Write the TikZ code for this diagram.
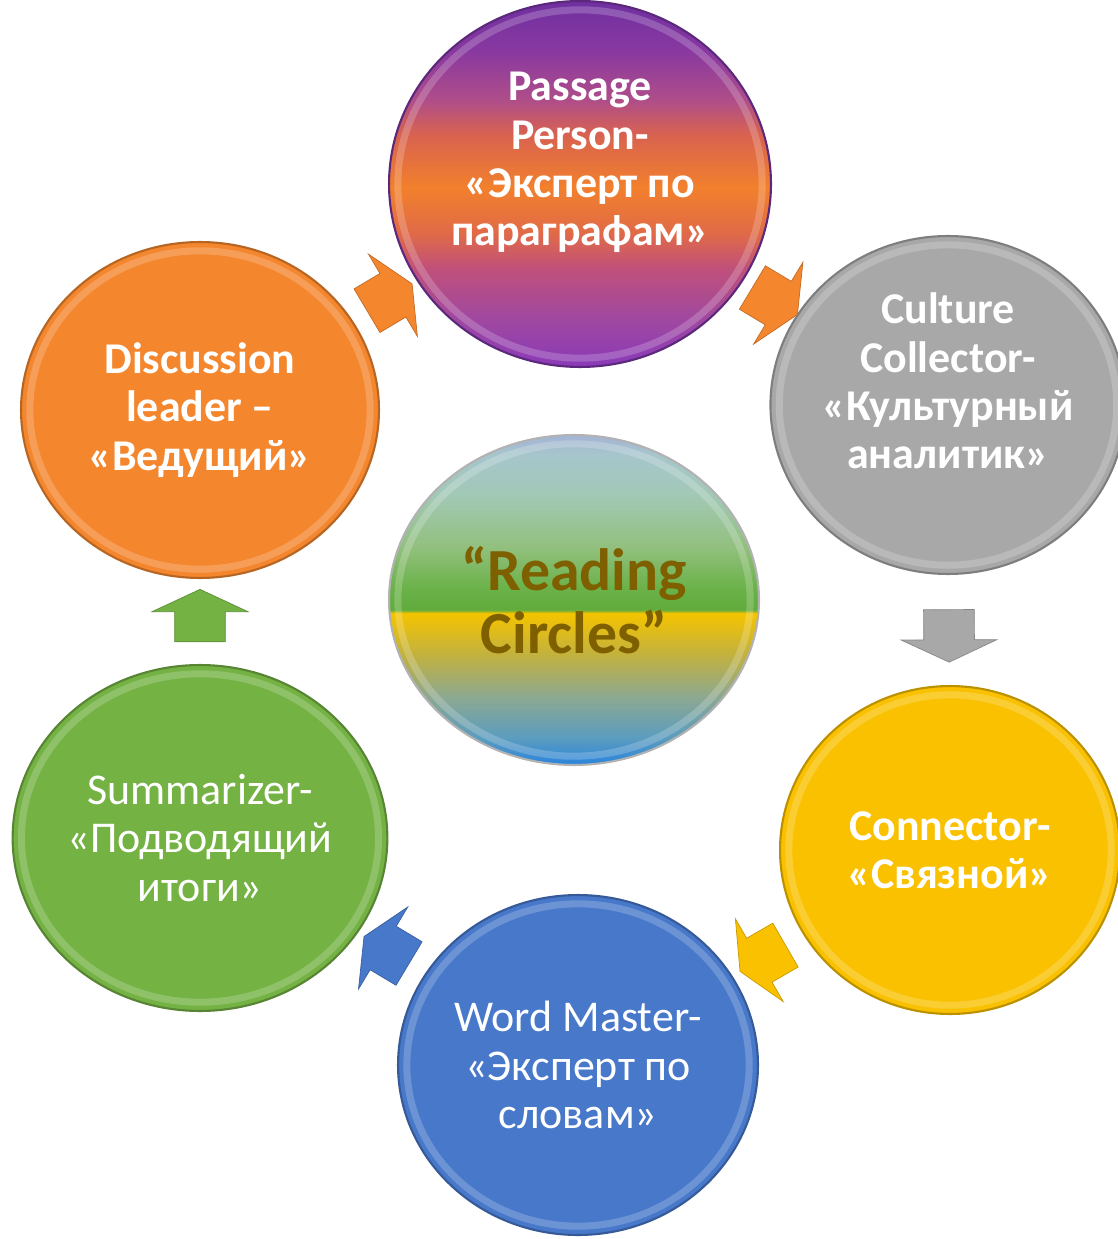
\documentclass[tikz,border=0pt]{standalone}
\usepackage{fontspec}
\setmainfont{Carlito}
\usetikzlibrary{shapes.geometric,shapes.arrows,calc}
\definecolor{orng}{HTML}{F4862E}
\definecolor{grey}{HTML}{A8A8A8}
\definecolor{yell}{HTML}{F9C100}
\definecolor{blu}{HTML}{4878CA}
\definecolor{grn}{HTML}{74B244}
\definecolor{purp}{HTML}{7A36A4}
\definecolor{brwn}{HTML}{7F6000}
\pgfdeclareverticalshading{passage}{100bp}{color(0bp)=(rgb,255:red,138;green,58;blue,184); color(25bp)=(rgb,255:red,138;green,58;blue,184);
  color(31.7bp)=(rgb,255:red,160;green,72;blue,160); color(38.5bp)=(rgb,255:red,192;green,80;blue,122);
  color(43.2bp)=(rgb,255:red,224;green,106;blue,72); color(49.5bp)=(rgb,255:red,242;green,128;blue,44);
  color(56.8bp)=(rgb,255:red,216;green,98;blue,80); color(61.3bp)=(rgb,255:red,176;green,78;blue,136);
  color(68.2bp)=(rgb,255:red,136;green,56;blue,160); color(75bp)=(rgb,255:red,112;green,48;blue,160); color(100bp)=(rgb,255:red,112;green,48;blue,160)}
\pgfdeclareverticalshading{reading}{100bp}{color(0bp)=(rgb,255:red,42;green,132;blue,220); color(25bp)=(rgb,255:red,42;green,132;blue,220);
  color(29bp)=(rgb,255:red,90;green,156;blue,192); color(35bp)=(rgb,255:red,138;green,168;blue,148);
  color(42bp)=(rgb,255:red,196;green,178;blue,60); color(48bp)=(rgb,255:red,245;green,196;blue,0);
  color(48.5bp)=(rgb,255:red,96;green,172;blue,60); color(52bp)=(rgb,255:red,108;green,178;blue,74);
  color(58bp)=(rgb,255:red,146;green,192;blue,126); color(66bp)=(rgb,255:red,162;green,200;blue,182);
  color(72bp)=(rgb,255:red,166;green,198;blue,204); color(75bp)=(rgb,255:red,164;green,180;blue,214); color(100bp)=(rgb,255:red,164;green,180;blue,214)}
\tikzset{d/.style={ellipse,draw=#1!75!black,fill=#1,line width=1.2pt,text=white,align=center,inner sep=0pt,
  font=\bfseries\fontsize{25}{27.5}\selectfont,
  path picture={\draw[white,opacity=.2,line width=4pt] let \p1=(path picture bounding box.north east),
    \p2=(path picture bounding box.center) in (\p2) ellipse ({\x1-\x2-5pt} and {\y1-\y2-5pt});}}}
\tikzset{n/.style={font=\fontsize{25}{27.5}\selectfont}}
\tikzset{a/.style={single arrow,fill=#1,draw=#1!80!black,minimum height=1.05cm,inner xsep=0pt,inner ysep=.5cm,
  single arrow head extend=.45cm,single arrow tip angle=130,sloped,allow upside down}}

\begin{document}
\begin{tikzpicture}[x=0.02cm,y=-0.02cm]
  \useasboundingbox (0,0) rectangle (1117,1239);
  \node[d=orng,minimum width=7.16cm,minimum height=6.72cm] (D) at (200,410) {Discussion\\leader --\\«Ведущий»};
  \node[d=purp,shading=passage,minimum width=7.64cm,minimum height=7.32cm,text depth=1cm] (P) at (580,184)
    {Passage\\Person-\\«Эксперт по\\параграфам»};
  \node[d=grey,minimum width=6.84cm,minimum height=6.76cm,text depth=.96cm] (C) at (948,405)
    {Culture\\Collector-\\«Культурный\\аналитик»};
  \node[d=yell,minimum width=6.8cm,minimum height=6.56cm] (K) at (950,850) {Connector-\\«Связной»};
  \node[d=blu,n,minimum width=7.2cm,minimum height=6.8cm] (W) at (578,1065) {Word Master-\\«Эксперт по\\словам»};
  \node[d=grn,n,minimum width=7.28cm,minimum height=6.92cm] (S) at (200,838) {Summarizer-\\«Подводящий\\итоги»};
  \node[d=grey,draw=gray!60,shading=reading,text=brwn,font=\bfseries\fontsize{34}{36}\selectfont,
    minimum width=7.4cm,minimum height=6.6cm] (R) at (574,600) {“Reading\\Circles”};
  % cycle arrows
  \path (D) -- node[a=orng] {} (P);
  \path (P) -- node[a=orng] {} (C);
  \path (C) -- node[a=grey] {} (K);
  \path (K) -- node[a=yell] {} (W);
  \path (W) -- node[a=blu] {} (S);
  \path (S) -- node[a=grn] {} (D);
\end{tikzpicture}
\end{document}
